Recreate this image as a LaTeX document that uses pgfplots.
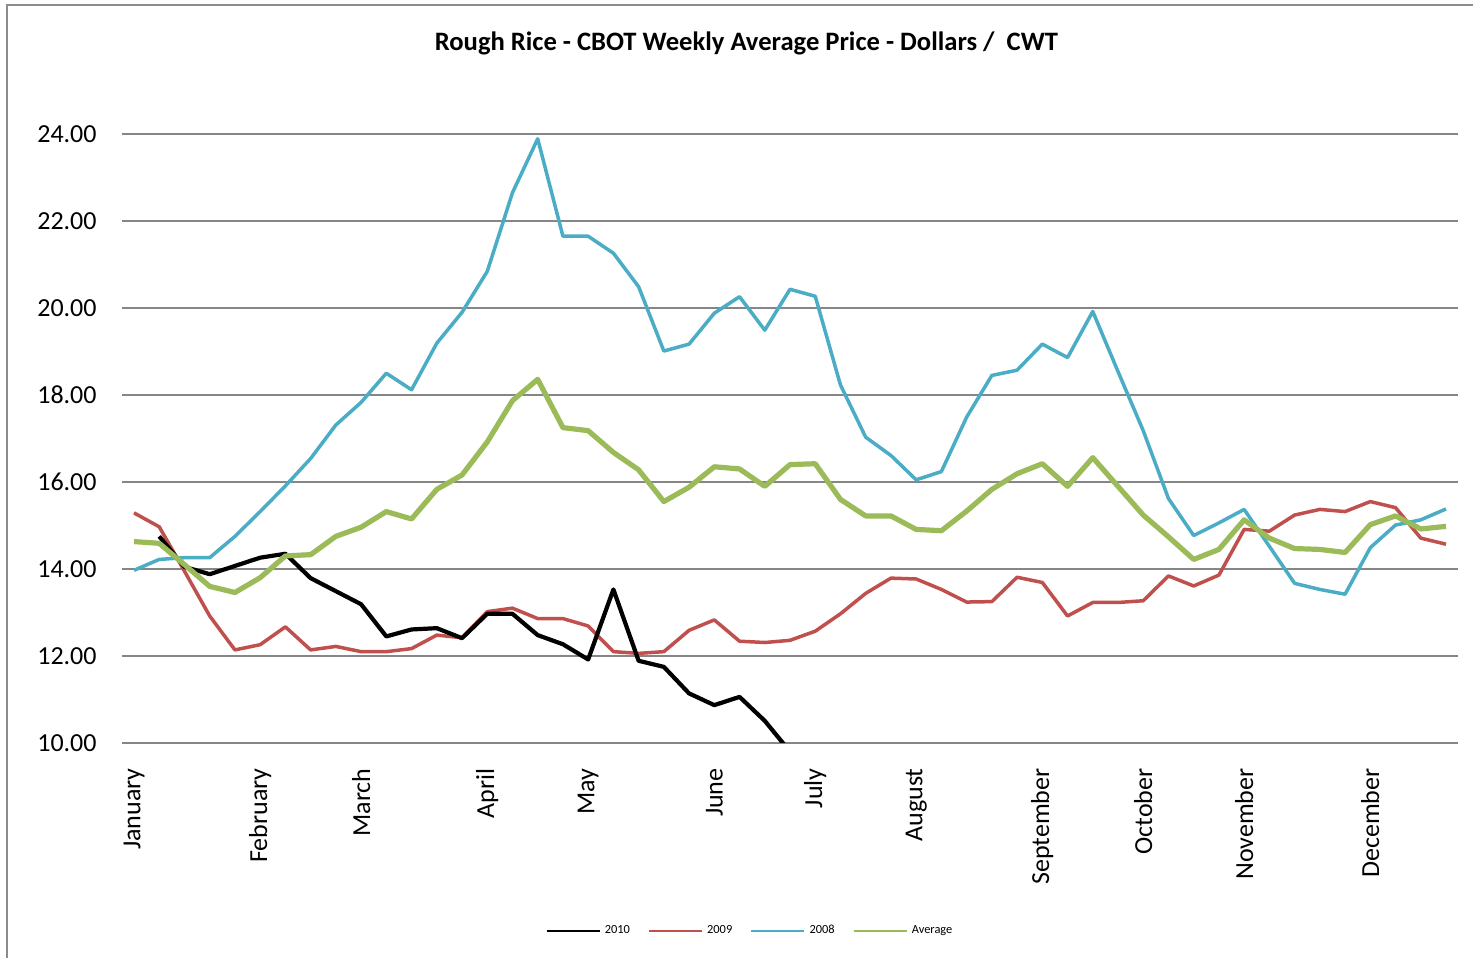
\documentclass[border=0pt]{standalone}
\usepackage{pgfplots}
\pgfplotsset{compat=1.18}
\usepackage{fontspec}
\setmainfont{Carlito}
\definecolor{cblue}{HTML}{4BACC6}
\definecolor{cred}{HTML}{C0504D}
\definecolor{cgreen}{HTML}{9BBB59}
\definecolor{cgrid}{HTML}{868686}
\definecolor{cframe}{HTML}{8C8C8C}

\pgfplotstableread{
i v
0 13.97
1 14.22
2 14.26
3 14.26
4 14.75
5 15.32
6 15.91
7 16.54
8 17.31
9 17.83
10 18.50
11 18.12
12 19.19
13 19.90
14 20.84
15 22.65
16 23.89
17 21.65
18 21.65
19 21.26
20 20.49
21 19.01
22 19.17
23 19.88
24 20.26
25 19.49
26 20.43
27 20.27
28 18.23
29 17.03
30 16.61
31 16.05
32 16.24
33 17.49
34 18.45
35 18.57
36 19.17
37 18.86
38 19.92
39 18.54
40 17.18
41 15.62
42 14.77
43 15.06
44 15.37
45 14.52
46 13.67
47 13.53
48 13.42
49 14.49
50 15.01
51 15.13
52 15.38
}\tblA

\pgfplotstableread{
i v
0 15.29
1 14.97
2 13.95
3 12.92
4 12.14
5 12.26
6 12.67
7 12.14
8 12.22
9 12.10
10 12.10
11 12.17
12 12.48
13 12.42
14 13.02
15 13.10
16 12.86
17 12.86
18 12.69
19 12.10
20 12.06
21 12.10
22 12.59
23 12.83
24 12.34
25 12.31
26 12.36
27 12.57
28 12.97
29 13.44
30 13.79
31 13.77
32 13.53
33 13.24
34 13.25
35 13.81
36 13.69
37 12.92
38 13.23
39 13.23
40 13.27
41 13.84
42 13.61
43 13.86
44 14.91
45 14.87
46 15.24
47 15.37
48 15.32
49 15.55
50 15.41
51 14.71
52 14.57
}\tblB

\pgfplotstableread{
i v
1 14.75
2 14.05
3 13.88
4 14.07
5 14.26
6 14.35
7 13.79
8 13.49
9 13.19
10 12.45
11 12.61
12 12.64
13 12.41
14 12.97
15 12.97
16 12.48
17 12.27
18 11.92
19 13.53
20 11.89
21 11.75
22 11.14
23 10.87
24 11.06
25 10.51
26 9.80
}\tblC

\pgfplotstableread{
i v
0 14.63
1 14.59
2 14.10
3 13.60
4 13.46
5 13.80
6 14.30
7 14.33
8 14.75
9 14.96
10 15.32
11 15.15
12 15.83
13 16.16
14 16.92
15 17.87
16 18.36
17 17.25
18 17.18
19 16.68
20 16.28
21 15.55
22 15.88
23 16.35
24 16.30
25 15.90
26 16.40
27 16.42
28 15.60
29 15.22
30 15.22
31 14.91
32 14.88
33 15.33
34 15.83
35 16.19
36 16.42
37 15.90
38 16.56
39 15.90
40 15.24
41 14.74
42 14.22
43 14.45
44 15.13
45 14.71
46 14.47
47 14.45
48 14.38
49 15.02
50 15.22
51 14.92
52 14.98
}\tblD

\begin{document}
\begin{tikzpicture}
\useasboundingbox (0pt,0pt) rectangle (736.5pt,479pt);
\draw[cframe, line width=1pt] (3.5pt,-2pt) -- (3.5pt,476.5pt) -- (740pt,476.5pt);
\node[font=\bfseries\fontsize{13.3}{15}\selectfont, inner sep=0pt] at (373.25pt,457.5pt)
  {Rough Rice - CBOT Weekly Average Price - Dollars / \ CWT};
\begin{axis}[
  at={(61pt,107.5pt)}, anchor=south west,
  width=668pt, height=304.5pt, scale only axis,
  xmin=-0.476, xmax=52.476, ymin=10, ymax=24,
  axis line style={draw=none},
  major tick length=0pt,
  ytick={10,12,14,16,18,20,22,24},
  yticklabels={10.00,12.00,14.00,16.00,18.00,20.00,22.00,24.00},
  yticklabel style={font=\fontsize{13}{15}\selectfont, inner sep=0pt, anchor=east},
  yticklabel shift=12.5pt,
  xtick={0,5,9,14,18,23,27,31,36,40,44,49},
  xticklabels={January,February,March,April,May,June,July,August,September,October,November,December},
  xticklabel style={font=\fontsize{13}{15}\selectfont, rotate=90, anchor=east, inner sep=0pt},
  xticklabel shift=12.5pt,
  ymajorgrids,
  grid style={cgrid, line width=1pt},
  legend columns=4,
  legend style={at={(axis description cs:0.4708,-0.3087)}, anchor=center, draw=none,
    font=\fontsize{6.2}{7}\selectfont, inner sep=0pt,
    /tikz/every even column/.append style={column sep=7pt}},
  legend image code/.code={\draw[#1] (0pt,0pt) -- (26.5pt,0pt);},
]
\addlegendimage{black, line width=1.1pt}
\addlegendentry{2010}
\addlegendimage{cred, line width=1.1pt}
\addlegendentry{2009}
\addlegendimage{cblue, line width=1.1pt}
\addlegendentry{2008}
\addlegendimage{cgreen, line width=1.1pt}
\addlegendentry{Average}
\addplot[cblue, line width=1.75pt, line join=round, forget plot] table[x=i,y=v] {\tblA};
\addplot[cred, line width=1.75pt, line join=round, forget plot] table[x=i,y=v] {\tblB};
\addplot[black, line width=2.1pt, line join=round, forget plot] table[x=i,y=v] {\tblC};
\addplot[cgreen, line width=2.6pt, line join=round, forget plot] table[x=i,y=v] {\tblD};
\end{axis}
\end{tikzpicture}
\end{document}
